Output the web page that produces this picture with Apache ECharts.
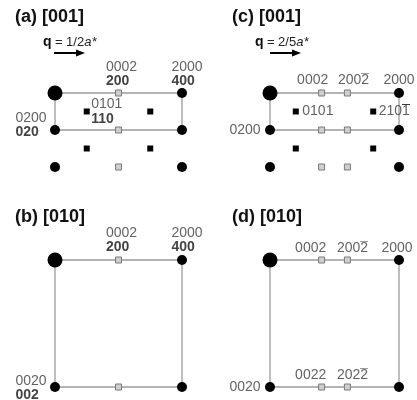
<!DOCTYPE html>
<html><head><meta charset="utf-8">
<script src="https://cdn.jsdelivr.net/npm/echarts@6/dist/echarts.min.js"></script>
<style>html,body{margin:0;padding:0;background:#fff}#c{width:417px;height:400px}</style>
</head><body><div id="c"></div>
<script>
// ---- Data (reciprocal lattice coordinates) ----
// Panel (a) [001], q = 1/2 a*  (x: h in 0..4, y: k rows 0..2)
const aStrong = [[0,0]];
const aSpots = [[4,0],[0,1],[4,1],[0,2],[4,2]];
const aSuper = [[1,0.5],[3,0.5],[1,1.5],[3,1.5]];
const aWeak = [[2,0],[2,1],[2,2]];
const aCell = [[0,0],[4,0],[4,1],[0,1],[0,0]];
const aLabels = [
  {at:[2,0], top:'0002', bottom:'200', key:'a1'},
  {at:[4,0], top:'2000', bottom:'400', key:'a2'},
  {at:[1,0.5], top:'0101', bottom:'110', key:'a3'},
  {at:[0,1], top:'0200', bottom:'020', key:'a4'}
];
// Panel (b) [010]
const bStrong = [[0,0]];
const bSpots = [[4,0],[0,1],[4,1]];
const bWeak = [[2,0],[2,1]];
const bCell = [[0,0],[4,0],[4,1],[0,1],[0,0]];
const bLabels = [
  {at:[2,0], top:'0002', bottom:'200', key:'b1'},
  {at:[4,0], top:'2000', bottom:'400', key:'b2'},
  {at:[0,1], top:'0020', bottom:'002', key:'b3'}
];
// Panel (c) [001], q = 2/5 a*  (x: fraction 0..1)
const cStrong = [[0,0]];
const cSpots = [[1,0],[0,1],[1,1],[0,2],[1,2]];
const cSuper = [[0.2,0.5],[0.8,0.5],[0.2,1.5],[0.8,1.5]];
const cWeak = [[0.4,0],[0.6,0],[0.4,1],[0.6,1],[0.4,2],[0.6,2]];
const cCell = [[0,0],[1,0],[1,1],[0,1],[0,0]];
// 'bar' = trailing index written with an overbar (negative index)
const cLabels = [
  {at:[0.4,0], top:'0002', key:'c1'},
  {at:[0.6,0], top:'200', bar:'2', key:'c2'},
  {at:[1,0], top:'2000', key:'c3'},
  {at:[0,1], top:'0200', key:'c4'},
  {at:[0.2,0.5], top:'0101', key:'c5'},
  {at:[0.8,0.5], top:'210', bar:'1', key:'c6'}
];
// Panel (d) [010]
const dStrong = [[0,0]];
const dSpots = [[1,0],[0,1],[1,1]];
const dWeak = [[0.4,0],[0.6,0],[0.4,1],[0.6,1]];
const dCell = [[0,0],[1,0],[1,1],[0,1],[0,0]];
const dLabels = [
  {at:[0.4,0], top:'0002', key:'d1'},
  {at:[0.6,0], top:'200', bar:'2', key:'d2'},
  {at:[1,0], top:'2000', key:'d3'},
  {at:[0.4,1], top:'0022', key:'d4'},
  {at:[0.6,1], top:'202', bar:'2', key:'d5'},
  {at:[0,1], top:'0020', key:'d6'}
];
const titles = ['(a) [001]','(b) [010]','(c) [001]','(d) [010]'];
const qTexts = ['1/2','2/5'];

// ---- Styles / layout ----
const FONT = 'Liberation Sans, Arial, sans-serif';
const labelOffsets = {
  a1:[-12,-33], a2:[-10,-33], a3:[5,-14], a4:[-39,-19],
  b1:[-12,-34], b2:[-10,-34], b3:[-39,-13],
  c1:[-24,-20], c2:[-9,-20], c3:[-15,-20], c4:[-40,-7], c5:[7,-7], c6:[6,-7],
  d1:[-26,-19], d2:[-10,-19], d3:[-17,-19], d4:[-26,-19], d5:[-10,-19], d6:[-40,-7]
};
const grids = [
  {left:55, top:93, width:127, height:74},
  {left:55, top:260, width:127, height:127},
  {left:270, top:93, width:129, height:74},
  {left:270, top:260, width:129, height:127}
];
const xMax = [4,4,1,1], yMax = [2,1,2,1];
const lineColor = '#9a9a9a';

// tiny overline image used as the background of overbarred digits
const ov = document.createElement('canvas');
ov.width = 8; ov.height = 29;
const octx = ov.getContext('2d');
octx.fillStyle = '#3a3a3a';
octx.fillRect(0, 0, 8, 2);

const rich = {
  n:{fontSize:14, fontFamily:FONT, color:'#3a3a3a', lineHeight:14.5},
  o:{fontSize:14, fontFamily:FONT, color:'#3a3a3a', lineHeight:14.5, height:14.5,
     backgroundColor:{image:ov}},
  b:{fontSize:14, fontFamily:FONT, fontWeight:'bold', color:'#111', lineHeight:14.5}
};

function labelText(l){
  let t = '{n|' + l.top + '}';
  if (l.bar) t += '{o|' + l.bar + '}';
  if (l.bottom) t += '\n{b|' + l.bottom + '}';
  return t;
}

function panelSeries(i, strong, spots, sup, weak, cell, labels){
  const base = {xAxisIndex:i, yAxisIndex:i, clip:false, silent:true, animation:false};
  const s = [];
  s.push(Object.assign({type:'line', data:cell, symbol:'none', lineStyle:{color:lineColor, width:1.3}, z:1}, base));
  s.push(Object.assign({type:'scatter', data:weak, symbol:'rect', symbolSize:6,
    itemStyle:{color:'#cfcfcf', borderColor:'#7a7a7a', borderWidth:1, opacity:1}, z:3}, base));
  if (sup) s.push(Object.assign({type:'scatter', data:sup, symbol:'rect', symbolSize:6, itemStyle:{color:'#000', opacity:1}, z:3}, base));
  s.push(Object.assign({type:'scatter', data:spots, symbol:'circle', symbolSize:10, itemStyle:{color:'#000', opacity:1}, z:4}, base));
  s.push(Object.assign({type:'scatter', data:strong, symbol:'circle', symbolSize:15, itemStyle:{color:'#000', opacity:1}, z:4}, base));
  s.push(Object.assign({type:'scatter', symbolSize:1, itemStyle:{color:'rgba(0,0,0,0)'}, z:5,
    data: labels.map(l => ({value:l.at, label:{show:true, position:labelOffsets[l.key], align:'left', verticalAlign:'top',
      formatter: labelText(l), rich:rich}}))}, base));
  return s;
}

const series = [].concat(
  panelSeries(0, aStrong, aSpots, aSuper, aWeak, aCell, aLabels),
  panelSeries(1, bStrong, bSpots, null, bWeak, bCell, bLabels),
  panelSeries(2, cStrong, cSpots, cSuper, cWeak, cCell, cLabels),
  panelSeries(3, dStrong, dSpots, null, dWeak, dCell, dLabels)
);

const titlePos = [[15,18],[15,218],[232,18],[232,218]];
const graphic = titles.map((t,i)=>({type:'text', left:titlePos[i][0], top:titlePos[i][1]-10,
  style:{text:t, font:'bold 18px '+FONT, fill:'#111'}}));
const qPos = [[43,43,54],[255,43,270]];
qTexts.forEach((q,i)=>{
  const tx = qPos[i][0], ty = qPos[i][1], ax = qPos[i][2];
  graphic.push({type:'text', left:tx, top:ty-8, style:{
    text:'{q|q} {t|= ' + q + '}{i|a*}',
    rich:{q:{font:'bold 14px '+FONT, fill:'#111'}, t:{font:'13px '+FONT, fill:'#222'}, i:{font:'italic 13px '+FONT, fill:'#222'}}
  }});
  graphic.push({type:'line', shape:{x1:ax, y1:53, x2:ax+24, y2:53}, style:{stroke:'#000', lineWidth:2}});
  graphic.push({type:'polygon', shape:{points:[[ax+22,49.5],[ax+31,53],[ax+22,56.5]]}, style:{fill:'#000'}});
});

const chart = echarts.init(document.getElementById('c'), null, {renderer:'canvas'});
chart.setOption({
  animation:false,
  grid: grids,
  xAxis: grids.map((g,i)=>({type:'value', gridIndex:i, min:0, max:xMax[i], show:false})),
  yAxis: grids.map((g,i)=>({type:'value', gridIndex:i, min:0, max:yMax[i], inverse:true, show:false})),
  series: series,
  graphic: graphic
});
</script></body></html>
